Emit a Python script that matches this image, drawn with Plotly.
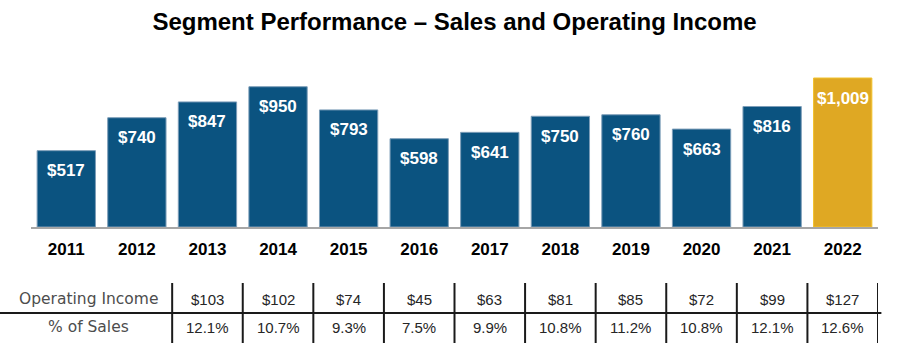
import plotly.graph_objects as go

years = ["2011", "2012", "2013", "2014", "2015", "2016", "2017", "2018", "2019", "2020", "2021", "2022"]
sales = [517, 740, 847, 950, 793, 598, 641, 750, 760, 663, 816, 1009]
sales_labels = ["$517", "$740", "$847", "$950", "$793", "$598", "$641", "$750", "$760", "$663", "$816", "$1,009"]
op_income = ["$103", "$102", "$74", "$45", "$63", "$81", "$85", "$72", "$99", "$127"]
pct_sales = ["12.1%", "10.7%", "9.3%", "7.5%", "9.9%", "10.8%", "11.2%", "10.8%", "12.1%", "12.6%"]
table_years = years[2:]
row_labels = ["Operating Income", "% of Sales"]

BLUE = "#0B5380"
GOLD = "#DFA823"
colors = [BLUE] * (len(years) - 1) + [GOLD]
edges = ["#7C9DB8"] * (len(years) - 1) + ["#F2C22E"]

FONT = "Arial, Liberation Sans, sans-serif"

fig = go.Figure()
fig.add_trace(go.Bar(
    x=list(range(len(years))), y=sales,
    marker=dict(color=colors, line=dict(color=edges, width=1)),
    hoverinfo="skip",
))

annotations = []
for i, (v, lab) in enumerate(zip(sales, sales_labels)):
    annotations.append(dict(x=i, y=v, xref="x", yref="y", text="<b>" + lab + "</b>",
                            showarrow=False, yshift=-20, yanchor="middle",
                            font=dict(family=FONT, size=17, color="white")))

# table
px_h = 167.0
def py(p):
    return (227.0 - p) / px_h

row_y = [py(299), py(327)]
for r, lab in enumerate(row_labels):
    annotations.append(dict(x=57 / 847, y=row_y[r], xref="paper", yref="paper", text=lab,
                            showarrow=False, xanchor="center", yanchor="middle",
                            font=dict(family="DejaVu Sans, Arial", size=15.5, color="#4D4D4D")))
for j, yr in enumerate(table_years):
    xi = years.index(yr)
    annotations.append(dict(x=xi, y=row_y[0], xref="x", yref="paper", text=op_income[j],
                            showarrow=False, yanchor="middle",
                            font=dict(family=FONT, size=15, color="#262626")))
    annotations.append(dict(x=xi, y=row_y[1], xref="x", yref="paper", text=pct_sales[j],
                            showarrow=False, yanchor="middle",
                            font=dict(family=FONT, size=15, color="#262626")))

shapes = []
for k in range(len(table_years) + 1):
    xv = years.index(table_years[0]) - 0.5 + k
    shapes.append(dict(type="line", xref="x", yref="paper", x0=xv, x1=xv,
                       y0=py(283), y1=py(343), line=dict(color="#1a1a1a", width=2)))
shapes.append(dict(type="line", xref="paper", yref="paper", x0=-31 / 847, x1=1.004,
                   y0=py(313), y1=py(313), line=dict(color="#1a1a1a", width=2)))

fig.update_layout(
    width=903, height=350,
    margin=dict(l=31, r=25, t=60, b=123),
    paper_bgcolor="white", plot_bgcolor="white",
    showlegend=False,
    bargap=0.174,
    title=dict(text="<b>Segment Performance – Sales and Operating Income</b>",
               x=0.5, xref="paper", y=1 - 22 / 350, yanchor="middle", xanchor="center",
               font=dict(family=FONT, size=24, color="black")),
    xaxis=dict(tickmode="array", tickvals=list(range(len(years))),
               ticktext=["<b>" + y + "</b>" for y in years],
               range=[-0.5, len(years) - 0.5],
               showgrid=False, zeroline=False, showline=True, linecolor="#A6A6A6", linewidth=2,
               ticks="", ticklabelstandoff=6,
               tickfont=dict(family=FONT, size=17, color="black"), fixedrange=True),
    yaxis=dict(range=[0, 1131], visible=False, fixedrange=True),
    annotations=annotations,
    shapes=shapes,
)

fig.write_html("out.html")
